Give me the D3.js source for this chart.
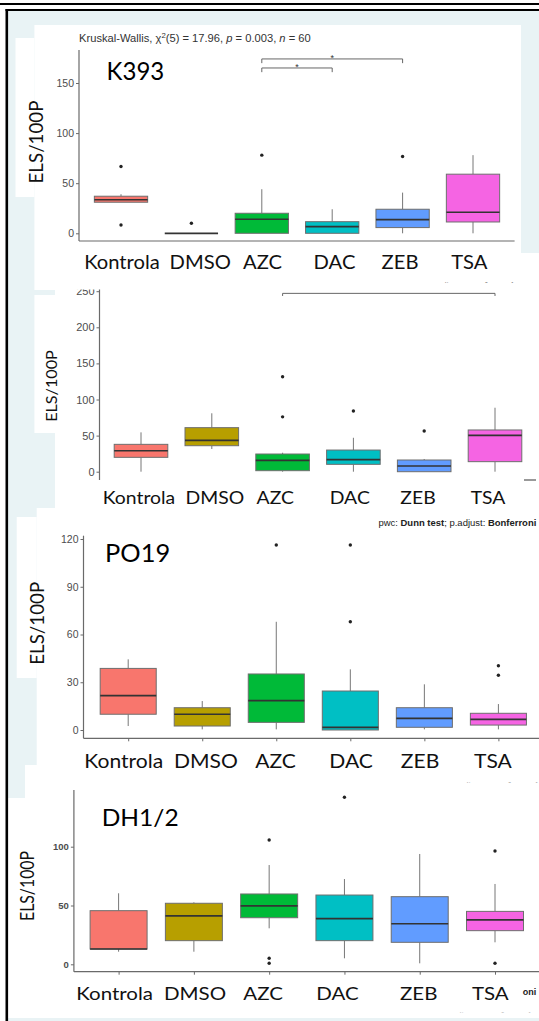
<!DOCTYPE html>
<html><head><meta charset="utf-8">
<script src="https://cdn.jsdelivr.net/npm/d3@7/dist/d3.min.js"></script>
<style>html,body{margin:0;padding:0;background:#fff}svg{display:block}</style>
</head><body>
<svg id="c" width="539" height="1021"></svg>
<script>
// ---------------- DATA ----------------
const categories = ["Kontrola", "DMSO", "AZC", "DAC", "ZEB", "TSA"];
const fillColors = ["#F8766D", "#B79F00", "#00BA38", "#00BFC4", "#619CFF", "#F564E3"];

// Panel 1: K393
const k393Low      = [31, 0, 0, 0, 0, 0];
const k393Q1       = [31, 0, 0, 0, 5.7, 11.3];
const k393Median   = [33.5, 0, 14, 6.7, 13.7, 21];
const k393Q3       = [37, 0, 20, 11.6, 24, 59];
const k393High     = [39, 0, 44, 24, 40.6, 78];
const k393Outliers = [[66.6, 8.3], [10], [78], [], [76.7], []];
const k393Ticks    = [0, 50, 100, 150];
const k393Pairs    = [["AZC", "DAC", 165, "*"], ["AZC", "ZEB", 174, "*"]];

// Panel 2 (no name)
const p2Low      = [0, 31.4, 0, 0, 0, 0];
const p2Q1       = [19.9, 36, 1.4, 10.2, 0, 13.9];
const p2Median   = [29, 43.5, 15.8, 16.6, 7.9, 50.4];
const p2Q3       = [37.9, 61, 24.5, 30, 16.2, 57.8];
const p2High     = [54.5, 80.9, 26.3, 47, 17.6, 88.6];
const p2Outliers = [[], [], [131.6, 76], [84], [56.4], []];
const p2Ticks    = [0, 50, 100, 150, 200, 250];
const p2Pairs    = [["AZC", "TSA", 247, ""]];

// Panel 3: PO19
const po19Low      = [2.5, 0.4, 0.4, 0, 0.4, 0.4];
const po19Q1       = [9.9, 2.5, 4.8, 0, 1.7, 3.1];
const po19Median   = [21.6, 9.9, 18.4, 1.7, 7.3, 6.7];
const po19Q3       = [38.7, 14, 35.2, 24.5, 14, 10.5];
const po19High     = [44.4, 18.2, 68, 38.1, 28.7, 16.3];
const po19Outliers = [[], [], [116.2], [116.2, 68], [], [40.4, 34.4]];
const po19Ticks    = [0, 30, 60, 90, 120];

// Panel 4: DH1/2
const dhLow      = [10.7, 10.7, 30.6, 5.1, 0.85, 18.7];
const dhQ1       = [13, 20.1, 39.6, 20.1, 18.7, 28.6];
const dhMedian   = [13, 41.1, 49.6, 38.8, 34.5, 37.7];
const dhQ3       = [45.6, 51.9, 59.8, 58.9, 57.5, 45];
const dhHigh     = [60.4, 52.7, 84.4, 72.5, 93.8, 68.3];
const dhOutliers = [[], [], [105.7, 5.1, 0.85], [142], [], [96.3, 0.85]];
const dhTicks    = [0, 50, 100];

const yLabel = "ELS/100P";
const pwcText = [["pwc: ", 400], ["Dunn test", 700], ["; p.adjust: ", 400], ["Bonferroni", 700]];

// ---------------- LAYOUT ----------------
const W = 539, H = 1021;
const svg = d3.select("#c");
const defs = svg.append("defs");
const SANS = "'Liberation Sans', Arial, sans-serif";
const LATO = "Lato, 'Open Sans', sans-serif";

svg.append("rect").attr("width", W).attr("height", H).attr("fill", "#fff");
svg.append("rect").attr("x", 8).attr("y", 11).attr("width", W - 8).attr("height", H - 11).attr("fill", "#e9f3f5");

const whiteRects = [
  [34.4, 25, 521, 290], [15.5, 38, 34.4, 197], [521, 253, 539, 296],
  [55, 289, 539, 517], [34.4, 295, 55, 433],
  [36.7, 508, 539, 765], [16.7, 517, 36.7, 678],
  [25, 765, 539, 1018], [8, 798, 25, 1018]
];
svg.append("g").selectAll("rect").data(whiteRects).join("rect")
  .attr("x", d => d[0]).attr("y", d => d[1])
  .attr("width", d => d[2] - d[0]).attr("height", d => d[3] - d[1])
  .attr("fill", "#fff");

// borders
svg.append("line").attr("x1", 0).attr("x2", W).attr("y1", 4).attr("y2", 4).attr("stroke", "#000").attr("stroke-width", 2);
svg.append("line").attr("x1", 5.5).attr("x2", W).attr("y1", 10).attr("y2", 10).attr("stroke", "#000").attr("stroke-width", 2);
svg.append("line").attr("x1", 6.8).attr("x2", 6.8).attr("y1", 9).attr("y2", H).attr("stroke", "#000").attr("stroke-width", 2.6);

function clipRect(id, x, y, w, h) {
  defs.append("clipPath").attr("id", id).append("rect")
    .attr("x", x).attr("y", y).attr("width", w).attr("height", h);
  return `url(#${id})`;
}

function stretchText(sel, target) {
  const w = sel.node().getComputedTextLength();
  return w > 0 ? target / w : 1;
}

function pwc(parent, x, base, size, targetW, anchor, fill) {
  const t = parent.append("text")
    .attr("font-family", SANS).attr("font-size", size).attr("fill", fill)
    .attr("text-anchor", anchor);
  pwcText.forEach(([s, wgt]) => t.append("tspan").attr("font-weight", wgt).text(s));
  const sx = stretchText(t, targetW);
  t.attr("transform", `translate(${x},${base}) scale(${sx},1)`);
  return t;
}

function drawPanel(cfg, d) {
  const g = svg.append("g");
  if (cfg.clip) g.attr("clip-path", cfg.clip);
  const x = d3.scalePoint().domain(categories).range(cfg.xr);
  const y = d3.scaleLinear().domain(cfg.yd).range(cfg.yr);
  const bw = x.step() * 0.757;
  const axisCol = "#6a6a6a";

  // y axis
  const ya = g.append("g").attr("transform", `translate(${cfg.axisX},0)`)
    .call(d3.axisLeft(y).tickValues(d.ticks).tickSize(3).tickPadding(2));
  ya.select(".domain").remove();
  ya.selectAll("line").attr("stroke", axisCol).attr("stroke-width", 1);
  ya.selectAll("text").attr("font-family", SANS).attr("font-size", cfg.tickFont)
    .attr("font-weight", cfg.tickWeight || 400).attr("fill", "#4d4d4d");
  g.append("line").attr("x1", cfg.axisX).attr("x2", cfg.axisX)
    .attr("y1", cfg.axisTop).attr("y2", cfg.axisBottom)
    .attr("stroke", axisCol).attr("stroke-width", 1.2);

  // x axis
  if (cfg.xAxisRight) {
    if (cfg.xTicks) {
      const xa = g.append("g").attr("transform", `translate(0,${cfg.axisBottom})`)
        .call(d3.axisBottom(x).tickSize(3).tickFormat(""));
      xa.select(".domain").remove();
      xa.selectAll("line").attr("stroke", axisCol).attr("stroke-width", 1);
    }
    g.append("line").attr("x1", cfg.axisX).attr("x2", cfg.xAxisRight)
      .attr("y1", cfg.axisBottom).attr("y2", cfg.axisBottom)
      .attr("stroke", axisCol).attr("stroke-width", 1.2);
  }

  const idx = d3.range(categories.length);
  // whiskers
  g.append("g").selectAll("line").data(idx).join("line")
    .attr("x1", i => x(categories[i])).attr("x2", i => x(categories[i]))
    .attr("y1", i => y(d.high[i])).attr("y2", i => y(d.q3[i]))
    .attr("stroke", "#777").attr("stroke-width", 1);
  g.append("g").selectAll("line").data(idx).join("line")
    .attr("x1", i => x(categories[i])).attr("x2", i => x(categories[i]))
    .attr("y1", i => y(d.q1[i])).attr("y2", i => y(d.low[i]))
    .attr("stroke", "#777").attr("stroke-width", 1);
  // boxes
  g.append("g").selectAll("rect").data(idx).join("rect")
    .attr("x", i => x(categories[i]) - bw / 2).attr("width", bw)
    .attr("y", i => y(d.q3[i])).attr("height", i => Math.max(0, y(d.q1[i]) - y(d.q3[i])))
    .attr("fill", i => fillColors[i]).attr("stroke", "#6e6e6e").attr("stroke-width", 1);
  // medians
  g.append("g").selectAll("line").data(idx).join("line")
    .attr("x1", i => x(categories[i]) - bw / 2).attr("x2", i => x(categories[i]) + bw / 2)
    .attr("y1", i => y(d.med[i])).attr("y2", i => y(d.med[i]))
    .attr("stroke", "#333").attr("stroke-width", 1.7);
  // outliers
  const outs = [];
  d.out.forEach((arr, i) => arr.forEach(v => outs.push([i, v])));
  g.append("g").selectAll("circle").data(outs).join("circle")
    .attr("cx", o => x(categories[o[0]])).attr("cy", o => y(o[1]))
    .attr("r", 1.7).attr("fill", "#222");

  // brackets
  (d.pairs || []).forEach(([a, b, v, lab]) => {
    const yy = y(v);
    g.append("path")
      .attr("d", `M${x(a)},${yy + cfg.bracketTick}V${yy}H${x(b)}V${yy + cfg.bracketTick}`)
      .attr("fill", "none").attr("stroke", "#666").attr("stroke-width", 1);
    if (lab) g.append("text").attr("x", (x(a) + x(b)) / 2).attr("y", yy + 1.8)
      .attr("text-anchor", "middle").attr("font-family", SANS).attr("font-size", 9)
      .attr("fill", "#333").text(lab);
  });

  // category labels
  const L = cfg.label;
  const tmp = g.append("text").attr("font-family", LATO).attr("font-size", L.size).text(categories[0]);
  const sx = stretchText(tmp, L.kw);
  tmp.remove();
  g.append("g").selectAll("text").data(idx).join("text")
    .attr("transform", i => `translate(${x(categories[i]) + L.nudge[i]},${L.base}) scale(${sx},1)`)
    .attr("text-anchor", "middle").attr("font-family", LATO).attr("font-size", L.size)
    .attr("fill", "#111").text(i => categories[i]);

  // y label
  const Y = cfg.ylab;
  const yl = g.append("text").attr("text-anchor", "middle").attr("font-family", LATO)
    .attr("font-size", Y.size).attr("fill", "#111").text(yLabel);
  const sy = stretchText(yl, Y.len);
  yl.attr("transform", `translate(${Y.x},${Y.y}) rotate(-90) scale(${sy},1)`);

  // panel name
  if (cfg.title) {
    const T = cfg.title;
    const tt = g.append("text").attr("font-family", LATO).attr("font-size", T.size)
      .attr("fill", "#000").text(T.text);
    const st = stretchText(tt, T.w);
    tt.attr("transform", `translate(${T.x},${T.base}) scale(${st},1)`);
  }
  return g;
}

// ---------- Panel 1: K393 ----------
drawPanel({
  xr: [121, 473], yd: [0, 150], yr: [233.3, 83],
  axisX: 79, axisTop: 50, axisBottom: 241, xAxisRight: 514.6, xTicks: false,
  tickFont: 10.5, bracketTick: 4.2,
  label: { base: 268.5, size: 19.3, kw: 75.6, nudge: [1, 8.8, 0.7, 2.3, -2.6, -3.7] },
  ylab: { x: 43, y: 142, size: 19.5, len: 83 },
  title: { text: "K393", x: 106.6, base: 80, size: 25.5, w: 57.7 }
}, { low: k393Low, q1: k393Q1, med: k393Median, q3: k393Q3, high: k393High,
     out: k393Outliers, ticks: k393Ticks, pairs: k393Pairs });

// Kruskal-Wallis subtitle
{
  const t = svg.append("text").attr("font-family", SANS).attr("font-size", 10).attr("fill", "#333");
  t.append("tspan").text("Kruskal-Wallis, χ");
  t.append("tspan").attr("dy", -4).attr("font-size", 7).text("2");
  t.append("tspan").attr("dy", 4).text("(5) = 17.96, ");
  t.append("tspan").attr("font-style", "italic").text("p");
  t.append("tspan").text(" = 0.003, ");
  t.append("tspan").attr("font-style", "italic").text("n");
  t.append("tspan").text(" = 60");
  const s = stretchText(t, 232);
  t.attr("transform", `translate(79,41.7) scale(${s},1)`);
}

// faded cut-off caption remnants
{
  const g1 = svg.append("g").attr("clip-path", clipRect("cf1", 0, 280.6, W, 2.4)).attr("opacity", 0.6);
  pwc(g1, 359, 289, 9, 155, "start", "#555");
  const g3 = svg.append("g").attr("clip-path", clipRect("cf3", 0, 780.6, W, 2.2)).attr("opacity", 0.55);
  pwc(g3, 378, 789, 9, 160, "start", "#555");
  const g4 = svg.append("g").attr("clip-path", clipRect("cf4", 0, 1010.8, W, 2)).attr("opacity", 0.5);
  pwc(g4, 371, 1019, 9, 160, "start", "#777");
}

// ---------- Panel 2 ----------
drawPanel({
  clip: clipRect("c2", 0, 289.6, W, 240),
  xr: [141, 495], yd: [0, 200], yr: [471.7, 327.3],
  axisX: 99.5, axisTop: 285, axisBottom: 480, xAxisRight: null, xTicks: false,
  tickFont: 11, bracketTick: 2.6,
  label: { base: 503.5, size: 16.3, kw: 72.5, nudge: [-2, 3, -7.3, -3.6, -6.2, -7] },
  ylab: { x: 57.3, y: 386, size: 15.8, len: 71.7 },
  title: null
}, { low: p2Low, q1: p2Q1, med: p2Median, q3: p2Q3, high: p2High,
     out: p2Outliers, ticks: p2Ticks, pairs: p2Pairs });

// panel 2 axis stub on the right and caption
svg.append("line").attr("x1", 524).attr("x2", 536).attr("y1", 480).attr("y2", 480)
  .attr("stroke", "#555").attr("stroke-width", 1.2);
pwc(svg, 536.3, 526, 9, 158, "end", "#222");

// ---------- Panel 3: PO19 ----------
drawPanel({
  xr: [128.2, 498.4], yd: [0, 120], yr: [730, 539],
  axisX: 83.5, axisTop: 535.7, axisBottom: 738.3, xAxisRight: W, xTicks: true,
  tickFont: 10.5, bracketTick: 3,
  label: { base: 768.3, size: 19.5, kw: 79, nudge: [-4.4, 3.7, -0.8, 0.8, -4.3, -5.5] },
  ylab: { x: 43.5, y: 623.3, size: 19.5, len: 83 },
  title: { text: "PO19", x: 105, base: 561.7, size: 25.5, w: 65.2 }
}, { low: po19Low, q1: po19Q1, med: po19Median, q3: po19Q3, high: po19High,
     out: po19Outliers, ticks: po19Ticks, pairs: [] });

// ---------- Panel 4: DH1/2 ----------
drawPanel({
  xr: [118.6, 495], yd: [0, 100], yr: [964.3, 846.7],
  axisX: 73.9, axisTop: 790, axisBottom: 971.7, xAxisRight: W, xTicks: true,
  tickFont: 9.5, tickWeight: 700, bracketTick: 3,
  label: { base: 1000, size: 16.3, kw: 76.7, nudge: [-4, 1.1, -6.1, -6.9, -1, -4.7] },
  ylab: { x: 34, y: 886, size: 18.8, len: 70 },
  title: { text: "DH1/2", x: 101.7, base: 825.5, size: 23, w: 77 }
}, { low: dhLow, q1: dhQ1, med: dhMedian, q3: dhQ3, high: dhHigh,
     out: dhOutliers, ticks: dhTicks, pairs: [] });

// cut-off "...oni" remnant at the bottom right
svg.append("text").attr("x", 522.7).attr("y", 995).attr("font-family", SANS)
  .attr("font-size", 9).attr("font-weight", 700).attr("fill", "#222").text("oni");
</script>
</body></html>
